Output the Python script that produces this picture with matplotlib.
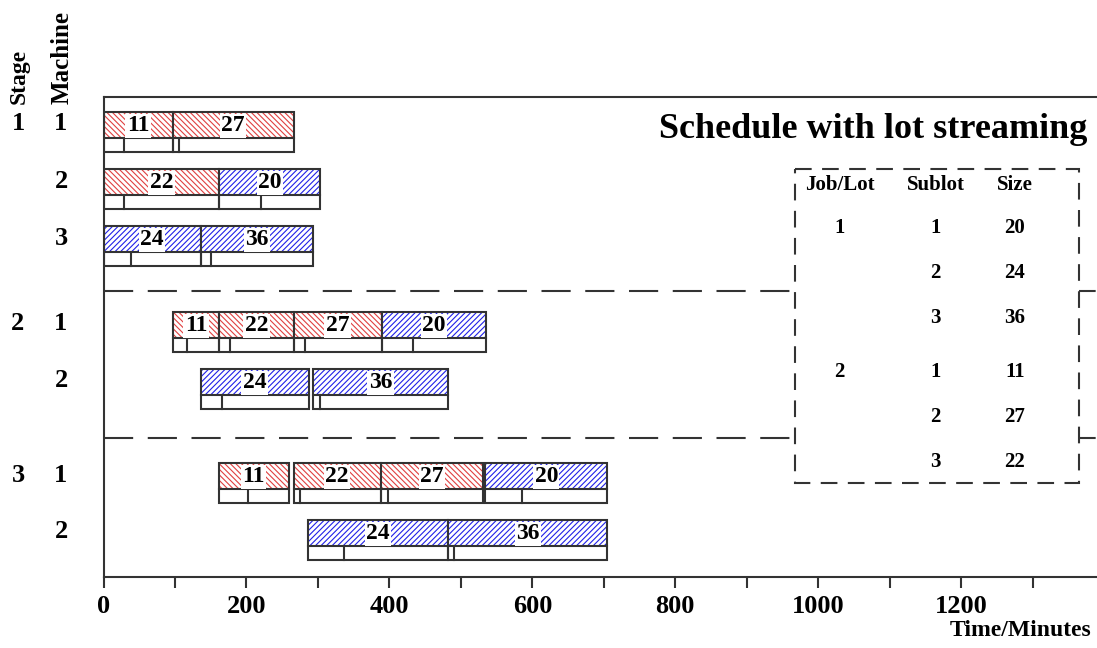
import matplotlib.pyplot as plt
from matplotlib.patches import Rectangle

plt.rcParams['font.family'] = ['Liberation Serif', 'DejaVu Serif']
plt.rcParams['font.weight'] = 'bold'
plt.rcParams['hatch.linewidth'] = 0.8

# rows of the chart, top to bottom
stage_labels = ['1', '', '', '2', '', '3', '']
machine_labels = ['1', '2', '3', '1', '2', '1', '2']
row_top = [112, 169, 226, 312, 369, 463, 520]
stage_breaks = [291, 438]

# sublots processed on each machine: size, start, end of setup, finish (minutes)
op_size = [[11, 27], [22, 20], [24, 36],
           [11, 22, 27, 20], [24, 36],
           [11, 22, 27, 20], [24, 36]]
op_start = [[0, 97], [0, 162], [0, 136],
            [97, 162, 266, 389], [136, 293],
            [161, 266, 388, 534], [286, 482]]
op_setup = [[29, 106], [29, 221], [38, 150],
            [117, 177, 282, 433], [166, 303],
            [202, 275, 398, 585], [336, 490]]
op_end = [[97, 266], [162, 303], [136, 293],
          [162, 266, 389, 535], [287, 482],
          [259, 388, 531, 705], [482, 705]]

# lot streaming table
tab_job = ['1', '', '', '2', '', '']
tab_sublot = ['1', '2', '3', '1', '2', '3']
tab_size = ['20', '24', '36', '11', '27', '22']
job1_sizes = [20, 24, 36]

W, H = 1097, 648
fig = plt.figure(figsize=(W / 100, H / 100), dpi=100)
ax = fig.add_axes([103.5 / W, (H - 577) / H, 1 - 103.5 / W, 480 / H])
ax.set_xlim(0, 1390)
ax.set_ylim(577, 97)

edge = '#333333'
hatch_h = 25.5
low_h = 14

for r, top in enumerate(row_top):
    for size, s, m, e in zip(op_size[r], op_start[r], op_setup[r], op_end[r]):
        if size in job1_sizes:
            col, hatch = '#2020e8', '//////'
        else:
            col, hatch = '#e04040', '\\\\\\\\\\\\'
        ax.add_patch(Rectangle((s, top), e - s, hatch_h, facecolor='white',
                               edgecolor=col, hatch=hatch, linewidth=0.5))
        ax.add_patch(Rectangle((s, top), e - s, hatch_h + low_h, fill=False,
                               edgecolor=edge, linewidth=1.5))
        ax.plot([s, e], [top + hatch_h, top + hatch_h], color=edge, lw=1.5)
        ax.plot([m, m], [top + hatch_h, top + hatch_h + low_h], color=edge, lw=1.5)
        ax.text((s + e) / 2, top + hatch_h / 2 + 1, str(size), ha='center',
                va='center', fontsize=17,
                bbox=dict(facecolor='white', edgecolor='none', pad=1.0))

for y in stage_breaks:
    ax.axhline(y, color=edge, lw=1.5, dashes=(14, 7))

# table box
box_x0, box_x1 = 968, 1365
ax.add_patch(Rectangle((box_x0, 169), box_x1 - box_x0, 314, facecolor='white',
                       edgecolor=edge, lw=1.5, linestyle=(0, (8, 5)), zorder=3))
col_x = [1030, 1164, 1275]
ax.text(col_x[0], 185, 'Job/Lot', ha='center', va='center', fontsize=15, zorder=4)
ax.text(col_x[1], 185, 'Sublot', ha='center', va='center', fontsize=15, zorder=4)
ax.text(col_x[2], 185, 'Size', ha='center', va='center', fontsize=15, zorder=4)
tab_y = [228, 273, 318, 372, 417, 462]
for y, j, sl, sz in zip(tab_y, tab_job, tab_sublot, tab_size):
    for x, t in zip(col_x, [j, sl, sz]):
        ax.text(x, y, t, ha='center', va='center', fontsize=15, zorder=4)

ax.text(1377, 130, 'Schedule with lot streaming', ha='right', va='center',
        fontsize=26)

for sp in ['left', 'top', 'bottom']:
    ax.spines[sp].set_color(edge)
    ax.spines[sp].set_linewidth(1.5)
ax.spines['right'].set_visible(False)
ax.set_yticks([])
ax.set_xticks(range(0, 1400, 200))
ax.set_xticks(range(100, 1400, 200), minor=True)
ax.tick_params(axis='x', which='both', direction='out', length=8, width=1.5,
               color=edge, labelsize=19, pad=5)

# row labels on the left
for lab_s, lab_m, top in zip(stage_labels, machine_labels, row_top):
    yf = 1 - (top + 12) / H
    fig.text(18 / W, yf, lab_s, ha='center', va='center', fontsize=19)
    fig.text(61 / W, yf, lab_m, ha='center', va='center', fontsize=19)
fig.text(19 / W, 1 - 104 / H, 'Stage', rotation=90, ha='center', va='bottom',
         fontsize=17)
fig.text(62 / W, 1 - 104 / H, 'Machine', rotation=90, ha='center', va='bottom',
         fontsize=18)
fig.text(1091 / W, 1 - 630 / H, 'Time/Minutes', ha='right', va='center',
         fontsize=17)

fig.savefig('out.png', dpi=100)
